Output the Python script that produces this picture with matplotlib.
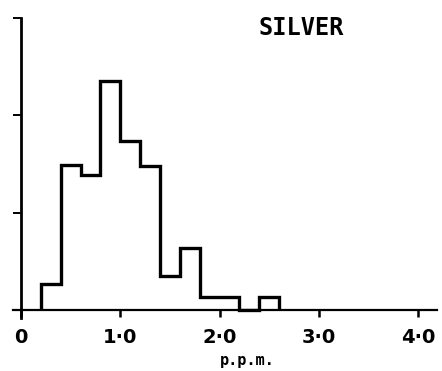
import matplotlib
matplotlib.use("Agg")
import matplotlib.pyplot as plt

# bin edges (p.p.m.) and heights (in units of the y tick spacing)
edges = [0.2, 0.4, 0.6, 0.8, 1.0, 1.2, 1.4, 1.6, 1.8, 2.0, 2.2, 2.4, 2.6]
counts = [0.27, 1.49, 1.39, 2.35, 1.73, 1.48, 0.35, 0.64, 0.14, 0.14, 0.0, 0.14]

xticks = [0, 1, 2, 3, 4]
xlabels = ["0", "1·0", "2·0", "3·0", "4·0"]
yticks = [0, 1, 2, 3]

fig = plt.figure(figsize=(4.42, 3.71), dpi=100)
ax = fig.add_axes([13 / 442, 53 / 371, 424 / 442, 300.5 / 371])

ax.stairs(counts, edges, color="black", linewidth=2.4, baseline=0)

ax.set_xlim(-0.08, 4.19)
ax.set_ylim(-0.08, 3.0)

for s in ["top", "right"]:
    ax.spines[s].set_visible(False)
ax.spines["bottom"].set_position(("data", 0))
ax.spines["left"].set_position(("data", 0))
ax.spines["bottom"].set_linewidth(1.6)
ax.spines["left"].set_linewidth(2.0)

ax.set_xticks(xticks)
ax.set_xticklabels(xlabels, fontsize=14, family="DejaVu Sans", fontweight="bold")
ax.set_yticks(yticks)
ax.set_yticklabels([])
ax.tick_params(axis="x", direction="out", length=5, width=1.8, pad=8)
ax.tick_params(axis="y", direction="out", length=6, width=1.4)

fig.text(247 / 442, 10 / 371, "p.p.m.", ha="center", va="center",
         fontsize=11, family="DejaVu Sans Mono", fontweight="bold")
fig.text(301 / 442, 343 / 371, "SILVER", ha="center", va="center",
         fontsize=17, family="DejaVu Sans Mono", fontweight="bold")

fig.savefig("out.png", dpi=100)
